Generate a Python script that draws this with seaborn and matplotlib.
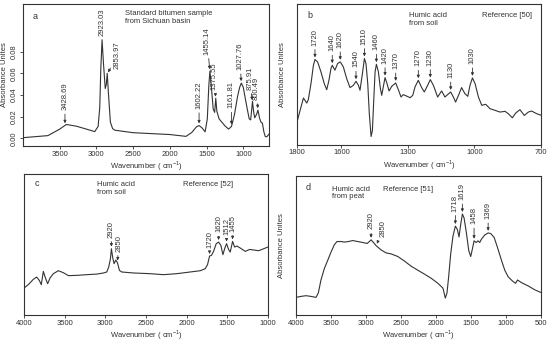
import matplotlib.pyplot as plt
import numpy as np
import seaborn as sns

# ---- panel a: standard bitumen (absorbance units) ----
wn_a = [4000, 3660, 3500, 3410, 3273, 3136, 3023, 2977, 2955, 2940, 2923, 2905,
        2880, 2865, 2853, 2835, 2810, 2780, 2750, 2500, 2000, 1780, 1700, 1640,
        1602, 1560, 1520, 1490, 1470, 1455, 1440, 1410, 1390, 1375, 1360, 1330,
        1250, 1200, 1161, 1120, 1080, 1050, 1027, 1000, 960, 920, 900, 885, 875,
        860, 845, 820, 800, 780, 760, 740, 720, 700, 680, 660, 650]
abs_a = [0.0006, 0.0025, 0.0085, 0.0128, 0.0112, 0.0085, 0.0062, 0.011, 0.028,
         0.065, 0.091, 0.070, 0.046, 0.050, 0.060, 0.040, 0.015, 0.009, 0.0075,
         0.0052, 0.0035, 0.0018, 0.0055, 0.0105, 0.0118, 0.0095, 0.0060, 0.018,
         0.048, 0.062, 0.052, 0.027, 0.024, 0.037, 0.025, 0.018, 0.0115, 0.0085,
         0.011, 0.022, 0.038, 0.047, 0.051, 0.047, 0.032, 0.018, 0.017, 0.027,
         0.034, 0.025, 0.019, 0.022, 0.026, 0.019, 0.015, 0.014, 0.006, 0.0015,
         0.0015, 0.003, 0.004]
peaks_a = [3428.69, 2923.03, 2853.97, 1602.22, 1455.14, 1375.55, 1161.81,
           1027.76, 875.91, 800.49]
peak_labels_a = ["3428.69", "2923.03", "2853.97", "1602.22", "1455.14",
                 "1375.55", "1161.81", "1027.76", "875.91", "800.49"]

# ---- panel b: humic acid from soil, Reference [50] (relative units) ----
wn_b = [1800, 1786, 1771, 1756, 1749, 1737, 1726, 1719, 1707, 1692, 1677, 1666,
        1656, 1647, 1641, 1629, 1617, 1605, 1591, 1576, 1561, 1546, 1534, 1523,
        1516, 1505, 1496, 1489, 1481, 1474, 1466, 1460, 1454, 1448, 1442, 1433,
        1424, 1418, 1411, 1403, 1394, 1385, 1373, 1355, 1343, 1331, 1321, 1306,
        1290, 1278, 1268, 1253, 1238, 1226, 1211, 1199, 1185, 1166, 1148, 1133,
        1121, 1107, 1095, 1085, 1070, 1058, 1043, 1030, 1020, 1009, 997, 982,
        967, 949, 930, 907, 885, 862, 847, 829, 814, 795, 775, 757, 742, 719, 697]
abs_b = [16.0, 24.3, 33.1, 29.5, 31.9, 43.3, 56.4, 60.5, 58.8, 51.7, 43.3, 39.0,
         45.7, 54.0, 56.4, 52.9, 57.6, 58.8, 55.2, 46.9, 40.5, 42.1, 45.0, 42.1,
         38.6, 50.5, 61.2, 57.6, 43.3, 21.9, 5.7, 10.0, 31.4, 51.7, 57.1, 51.7,
         39.8, 35.0, 41.0, 47.6, 43.3, 38.1, 41.4, 43.8, 39.0, 33.8, 35.5, 34.5,
         33.3, 35.0, 41.0, 45.7, 40.5, 37.4, 42.1, 46.2, 42.1, 33.8, 38.1, 33.8,
         35.5, 37.4, 33.8, 30.2, 35.7, 40.5, 36.2, 34.3, 42.1, 47.4, 43.3, 33.8,
         27.9, 28.6, 25.5, 24.3, 23.1, 23.6, 21.9, 19.0, 22.4, 24.8, 20.7, 23.1,
         23.8, 21.9, 20.7]
peaks_b = [1719, 1641, 1605, 1534, 1496, 1442, 1403, 1355, 1253, 1199, 1107, 1009]
peak_labels_b = ["1720", "1640", "1620", "1540", "1510", "1460", "1420", "1370",
                 "1270", "1230", "1130", "1030"]

# ---- panel c: humic acid from soil, Reference [52] ----
wn_c = [4000, 3947, 3885, 3844, 3811, 3787, 3762, 3733, 3709, 3680, 3639, 3577,
        3516, 3454, 3352, 3228, 3105, 3023, 2982, 2958, 2937, 2925, 2908, 2892,
        2871, 2851, 2826, 2798, 2654, 2449, 2285, 2120, 1956, 1833, 1772, 1743,
        1718, 1694, 1669, 1636, 1607, 1579, 1554, 1530, 1509, 1484, 1464, 1435,
        1410, 1382, 1341, 1279, 1226, 1176, 1115, 1053, 1000]
abs_c = [18.9, 21.3, 25.1, 26.7, 24.3, 21.3, 30.7, 25.5, 22.0, 26.0, 29.1, 31.2,
         29.8, 27.7, 27.9, 28.4, 28.8, 29.6, 30.3, 33.8, 39.7, 46.8, 40.2, 36.2,
         38.8, 36.9, 31.4, 30.3, 29.6, 29.1, 28.4, 29.1, 30.3, 31.2, 32.6, 35.5,
         41.6, 42.1, 44.9, 50.4, 51.5, 49.2, 42.6, 47.3, 50.4, 46.3, 44.4, 52.0,
         48.0, 48.7, 47.3, 44.9, 46.3, 45.9, 45.4, 46.8, 48.0]
peaks_c = [2925, 2851, 1718, 1607, 1509, 1435]
peak_labels_c = ["2920", "2850", "1720", "1620", "1512", "1455"]

# ---- panel d: humic acid from peat, Reference [51] ----
wn_d = [4000, 3928, 3857, 3785, 3713, 3680, 3642, 3594, 3546, 3499, 3451, 3413,
        3355, 3308, 3250, 3188, 3117, 3045, 2983, 2950, 2926, 2892, 2854, 2782,
        2711, 2639, 2544, 2448, 2353, 2257, 2162, 2066, 1971, 1899, 1866, 1842,
        1818, 1789, 1756, 1722, 1694, 1670, 1646, 1622, 1598, 1565, 1531, 1503,
        1479, 1455, 1426, 1398, 1374, 1350, 1302, 1254, 1216, 1168, 1121, 1063,
        1016, 968, 911, 863, 834, 777, 681, 586, 500]
abs_d = [12.7, 13.4, 13.9, 13.4, 12.7, 15.8, 25.2, 33.4, 39.3, 45.2, 50.6, 52.9,
         52.9, 52.5, 52.9, 53.6, 52.9, 52.2, 51.5, 52.9, 54.1, 52.2, 49.9, 46.8,
         44.7, 44.0, 42.1, 38.8, 35.1, 32.2, 29.4, 26.4, 22.8, 19.3, 12.2, 15.8,
         27.5, 44.0, 56.9, 64.0, 61.6, 56.2, 65.2, 72.7, 69.9, 59.3, 46.4, 42.1,
         47.5, 53.4, 52.2, 53.4, 52.2, 54.6, 57.6, 59.1, 58.6, 55.8, 48.7, 39.3,
         32.2, 27.5, 24.7, 22.8, 25.2, 23.3, 20.9, 18.1, 16.2]
peaks_d = [2926, 2854, 1722, 1622, 1455, 1254]
peak_labels_d = ["2920", "2850", "1718", "1619", "1458", "1369"]

INK = "#333333"
sns.set_style("ticks")
plt.rcParams["font.family"] = ["Liberation Sans", "DejaVu Sans"]
plt.rcParams.update({"font.size": 5.5, "axes.linewidth": 0.8,
                     "axes.edgecolor": INK, "text.color": INK,
                     "xtick.color": INK, "ytick.color": INK,
                     "axes.labelcolor": INK, "mathtext.fontset": "custom",
                     "mathtext.rm": "Liberation Sans"})

fig = plt.figure(figsize=(5.5, 3.43), dpi=100)
ax_a = fig.add_axes([0.0418, 0.5743, 0.4473, 0.414])
ax_b = fig.add_axes([0.540, 0.5787, 0.4436, 0.4096])
ax_c = fig.add_axes([0.0436, 0.0825, 0.4436, 0.411])
ax_d = fig.add_axes([0.538, 0.0816, 0.4455, 0.405])


def curve(ax, wn, ab):
    sns.lineplot(x=wn, y=ab, ax=ax, sort=False, estimator=None,
                 color=INK, lw=0.8)


def mark_peaks(ax, wn, ab, peaks, labels, offsets):
    xs = np.asarray(wn, float)[::-1]
    ys = np.asarray(ab, float)[::-1]
    for p, lab, (dx, dy, arrow) in zip(peaks, labels, offsets):
        yv = np.interp(p, xs, ys)
        props = None
        if arrow:
            props = dict(arrowstyle="-|>", color=INK, lw=0.6,
                         mutation_scale=4, shrinkA=0.5, shrinkB=1.5)
        ax.annotate(lab, xy=(p, yv), xytext=(dx, dy),
                    textcoords="offset points", rotation=90,
                    ha="center", va="bottom", fontsize=5.5,
                    arrowprops=props)


def finish(ax, xlim, ylim, xticks, ylabel=True):
    ax.set_xlim(*xlim)
    ax.set_ylim(*ylim)
    ax.set_xticks(xticks)
    ax.tick_params(length=2, width=0.6, pad=1.5, labelsize=5.5)
    ax.set_xlabel("Wavenumber ( cm$^{-1}$)", labelpad=1)
    if ylabel:
        ax.set_ylabel("Absorbance Unites", labelpad=8)
    else:
        ax.set_ylabel("")
    for s in ax.spines.values():
        s.set_visible(True)


# panel a
curve(ax_a, wn_a, abs_a)
mark_peaks(ax_a, wn_a, abs_a, peaks_a, peak_labels_a,
           [(0, 11, True), (0, 3, False), (7.5, 4, True), (0, 12, True),
            (-2, 12, True), (-1, 6, True), (0, 13, True), (-1, 9.5, True),
            (-2, 9, True), (-1, 7.5, True)])
finish(ax_a, (4000, 650), (-0.0071, 0.124), [3500, 3000, 2500, 2000, 1500, 1000])
ax_a.set_yticks([0.0, 0.02, 0.04, 0.06, 0.08])
ax_a.set_yticklabels(["0.00", "0.02", "0.04", "0.06", "0.08"],
                     rotation=90, va="center")
ax_a.set_ylabel("Absorbance Unites", labelpad=2)
ax_a.text(0.04, 0.915, "a", transform=ax_a.transAxes, fontsize=6.5, va="center")
ax_a.text(0.415, 0.955, "Standard bitumen sample\nfrom Sichuan basin",
          transform=ax_a.transAxes, va="top", ha="left", linespacing=1.1)

# panel b
curve(ax_b, wn_b, abs_b)
mark_peaks(ax_b, wn_b, abs_b, peaks_b, peak_labels_b, [(0, 10, True)] * 12)
finish(ax_b, (1800, 700), (0, 100), [1800, 1600, 1300, 1000, 700])
ax_b.set_yticks([])
ax_b.text(0.041, 0.92, "b", transform=ax_b.transAxes, fontsize=6.5, va="center")
ax_b.text(0.46, 0.94, "Humic acid\nfrom soil", transform=ax_b.transAxes,
          va="top", ha="left", linespacing=1.1)
ax_b.text(0.757, 0.94, "Reference [50]", transform=ax_b.transAxes,
          va="top", ha="left")

# panel c
curve(ax_c, wn_c, abs_c)
mark_peaks(ax_c, wn_c, abs_c, peaks_c, peak_labels_c,
           [(0, 8, True), (1, 8, True), (0, 6, True), (0, 7, True),
            (0, 6, True), (0, 7, True)])
finish(ax_c, (4000, 1000), (0, 100), [4000, 3500, 3000, 2500, 2000, 1500, 1000],
       ylabel=False)
ax_c.set_yticks([])
ax_c.text(0.045, 0.93, "c", transform=ax_c.transAxes, fontsize=6.5, va="center")
ax_c.text(0.298, 0.946, "Humic acid\nfrom soil", transform=ax_c.transAxes,
          va="top", ha="left", linespacing=1.1)
ax_c.text(0.65, 0.946, "Reference [52]", transform=ax_c.transAxes,
          va="top", ha="left")

# panel d
curve(ax_d, wn_d, abs_d)
mark_peaks(ax_d, wn_d, abs_d, peaks_d, peak_labels_d,
           [(0, 7.5, True), (5, 6, True), (0, 10.5, True), (0, 10, True),
            (0, 12, True), (0, 10, True)])
finish(ax_d, (4000, 500), (0, 100),
       [4000, 3500, 3000, 2500, 2000, 1500, 1000, 500])
ax_d.set_yticks([])
ax_d.text(0.04, 0.92, "d", transform=ax_d.transAxes, fontsize=6.5, va="center")
ax_d.text(0.148, 0.93, "Humic acid\nfrom peat", transform=ax_d.transAxes,
          va="top", ha="left", linespacing=1.1)
ax_d.text(0.356, 0.93, "Reference [51]", transform=ax_d.transAxes,
          va="top", ha="left")

fig.savefig("out.png", dpi=100)
